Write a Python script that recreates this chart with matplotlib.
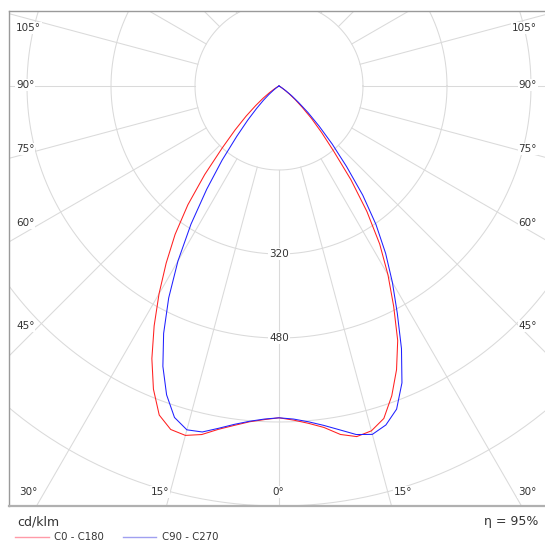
import numpy as np
import matplotlib
matplotlib.use("Agg")
import matplotlib.pyplot as plt
from matplotlib.lines import Line2D

# ---- data (cd/klm) ----
gamma = [0, 2.5, 5, 7.5, 10, 12.5, 15, 17.5, 20, 22.5, 25, 27.5, 30, 32.5, 35,
         37.5, 40, 42.5, 45, 47.5, 50, 52.5, 55, 57.5, 60, 65, 70, 75, 80, 85, 90]
c0 = [632, 637, 645, 656, 674, 684, 680, 664, 628, 585, 535, 473, 415, 357, 292,
      225, 162, 120, 88, 60, 40, 24, 12, 5, 2, 0, 0, 0, 0, 0, 0]
c180 = [632, 636, 642, 652, 664, 680, 689, 686, 667, 625, 573, 515, 457, 400, 345,
        285, 220, 160, 118, 85, 58, 38, 22, 11, 5, 0, 0, 0, 0, 0, 0]
c90 = [632, 635, 642, 652, 665, 680, 687, 677, 655, 612, 552, 488, 432, 378, 322,
       262, 200, 150, 108, 75, 48, 30, 16, 7, 2, 0, 0, 0, 0, 0, 0]
c270 = [632, 635, 641, 650, 662, 675, 678, 662, 626, 578, 520, 455, 385, 312, 240,
        178, 125, 88, 60, 40, 25, 14, 7, 3, 1, 0, 0, 0, 0, 0, 0]

rings = [160, 320, 480, 640, 800]
ring_labels = [320, 480]
spokes = list(range(0, 181, 15))
side_labels = [105, 90, 75, 60, 45]
bottom_labels = [30, 15, 0, 15, 30]
unit_text = "cd/klm"
eta_text = "η = 95%"
series_names = ["C0 - C180", "C90 - C270"]
series_colors = ["#ff2020", "#2020ff"]
legend_colors = ["#ff9aa8", "#a0a0f0"]

W, H = 545, 543
CX, CY = 279, 86          # pixel position of polar centre
PX = 0.525                # pixels per cd/klm
U = 1.0 / PX

fig = plt.figure(figsize=(W / 100, H / 100), dpi=100)
left_px, right_px, top_px, bot_px = 9, 549, 11, 506
ax = fig.add_axes([left_px / W, (H - bot_px) / H, (right_px - left_px) / W, (bot_px - top_px) / H])
ax.set_xlim((left_px - CX) * U, (right_px - CX) * U)
ax.set_ylim((CY - bot_px) * U, (CY - top_px) * U)
ax.set_xticks([]); ax.set_yticks([])
for s in ax.spines.values():
    s.set_color("#9a9a9a"); s.set_linewidth(1.0)
ax.spines["bottom"].set_linewidth(1.6)
ax.spines["bottom"].set_color("#b0b0b0")

grid_c = "#dadada"
t = np.linspace(0, 2 * np.pi, 721)
for r in rings:
    ax.plot(r * np.cos(t), r * np.sin(t), color=grid_c, lw=0.75, zorder=1)
for a in spokes:
    g = np.radians(a)
    for sgn in (-1, 1):
        ax.plot([sgn * 160 * np.sin(g), sgn * 1500 * np.sin(g)],
                [-160 * np.cos(g), -1500 * np.cos(g)], color=grid_c, lw=0.75, zorder=1)

lab_kw = dict(fontsize=7.5, color="#333333", zorder=5,
              bbox=dict(facecolor="white", edgecolor="none", pad=0.6))
for v in ring_labels:
    ax.text(0, -v, str(v), ha="center", va="center", **lab_kw)

def d(px, py):
    return (px - CX) * U, (CY - py) * U

side_y = [28, 85, 149, 223, 326]
for a, py in zip(side_labels, side_y):
    x, y = d(16, py)
    ax.text(x, y, f"{a}°", ha="left", va="center", **lab_kw)
    x, y = d(537, py)
    ax.text(x, y, f"{a}°", ha="right", va="center", **lab_kw)
bottom_x = [28, 160, 278, 403, 527]
for a, px in zip(bottom_labels, bottom_x):
    x, y = d(px, 492)
    ax.text(x, y, f"{a}°", ha="center", va="center", **lab_kw)

def curve(left, right):
    g = np.radians(np.array(gamma, dtype=float))
    l = np.array(left, dtype=float); r = np.array(right, dtype=float)
    xs = np.concatenate([-(l * np.sin(g))[::-1], r * np.sin(g)])
    ys = np.concatenate([-(l * np.cos(g))[::-1], -r * np.cos(g)])
    return xs, ys

x1, y1 = curve(c180, c0)
x2, y2 = curve(c270, c90)
ax.plot(x1, y1, color=series_colors[0], lw=0.75, zorder=3)
ax.plot(x2, y2, color=series_colors[1], lw=0.75, zorder=3)

fig.text(17 / W, 1 - 522 / H, unit_text, fontsize=9, color="#333333", ha="left", va="center")
fig.text(538 / W, 1 - 522 / H, eta_text, fontsize=9, color="#333333", ha="right", va="center")
leg = [(15, 49, 54), (123, 156, 162)]
for (xa, xb, xt), name, c in zip(leg, series_names, legend_colors):
    fig.add_artist(Line2D([xa / W, xb / W], [1 - 537 / H] * 2, color=c, lw=1.0))
    fig.text(xt / W, 1 - 537 / H, name, fontsize=7.3, color="#333333", ha="left", va="center")

fig.savefig("out.png", dpi=100)
